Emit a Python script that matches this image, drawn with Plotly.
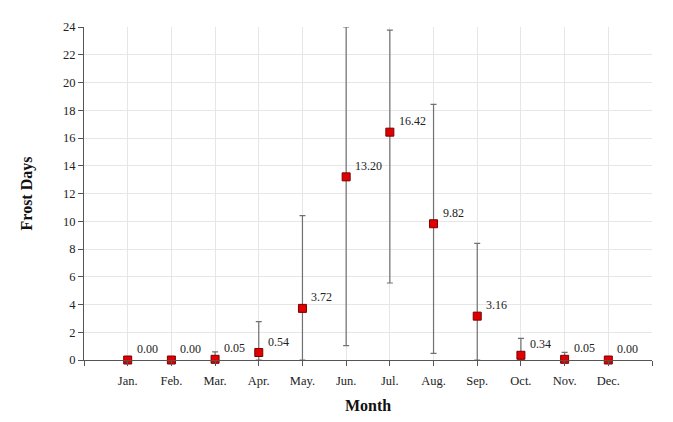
import plotly.graph_objects as go

months = ["Jan.", "Feb.", "Mar.", "Apr.", "May.", "Jun.", "Jul.", "Aug.", "Sep.", "Oct.", "Nov.", "Dec."]
frost_days = [0.00, 0.00, 0.05, 0.54, 3.72, 13.20, 16.42, 9.82, 3.16, 0.34, 0.05, 0.00]
upper_bound = [0.00, 0.00, 0.58, 2.76, 10.40, 24.00, 23.78, 18.43, 8.41, 1.56, 0.55, 0.00]
lower_bound = [0.00, 0.00, 0.00, 0.00, 0.00, 1.03, 5.55, 0.48, 0.00, 0.00, 0.00, 0.00]
y_ticks = list(range(0, 25, 2))

idx = list(range(len(months)))
err_plus = [u - v for u, v in zip(upper_bound, frost_days)]
err_minus = [v - l for v, l in zip(frost_days, lower_bound)]

FONT = "Liberation Serif"

fig = go.Figure()
fig.add_trace(go.Scatter(
    x=idx, y=frost_days, mode="markers",
    marker=dict(symbol="square", size=8, color="#e00000",
                line=dict(color="#7a0000", width=1)),
    error_y=dict(type="data", symmetric=False, array=err_plus, arrayminus=err_minus,
                 color="#707070", thickness=1.2, width=3),
    cliponaxis=False,
    showlegend=False,
))

for i, v in zip(idx, frost_days):
    fig.add_annotation(x=i, y=v, text=f"{v:.2f}", showarrow=False,
                       xanchor="left", yanchor="bottom", xshift=7, yshift=2,
                       font=dict(family=FONT, size=12, color="#222222"))

fig.update_layout(
    width=665, height=414,
    margin=dict(l=76, r=21, t=19, b=62),
    paper_bgcolor="white", plot_bgcolor="white",
    font=dict(family=FONT, size=12.5, color="#222222"),
    xaxis=dict(
        range=[-1, 12],
        tickvals=list(range(-1, 13)),
        ticktext=[""] + months + [""],
        showgrid=True, gridcolor="#e6e6e6", gridwidth=1,
        showline=True, linecolor="#555555", linewidth=1,
        ticks="outside", ticklen=5, tickcolor="#555555",
        ticklabelstandoff=4,
        zeroline=False,
        title=dict(text="<b>Month</b>", font=dict(family=FONT, size=16, color="#111111"), standoff=12),
    ),
    yaxis=dict(
        range=[0, 24],
        tickvals=y_ticks,
        showgrid=True, gridcolor="#e6e6e6", gridwidth=1,
        showline=True, linecolor="#555555", linewidth=1,
        ticks="outside", ticklen=5, tickcolor="#555555",
        zeroline=False,
        title=dict(text="<b>Frost Days</b>", font=dict(family=FONT, size=16, color="#111111"), standoff=26),
    ),
)

fig.write_html("out.html")
